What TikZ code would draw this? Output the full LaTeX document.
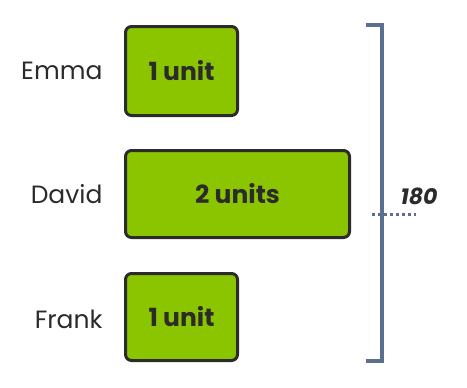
\documentclass[tikz,border=0pt]{standalone}
\usepackage{fontspec}
\setmainfont{Poppins}
\usepackage{tikz}
\usetikzlibrary{positioning}

\definecolor{unitgreen}{HTML}{8BC500}
\definecolor{boxedge}{HTML}{2B2B2B}
\definecolor{braceblue}{HTML}{5B7090}

\tikzset{
  unitbox/.style={draw=boxedge,line width=3pt,fill=unitgreen,rounded corners=6pt,
    minimum height=89pt,font=\fontsize{25}{28}\selectfont\bfseries,text=boxedge,inner sep=0pt},
  personlabel/.style={font=\fontsize{25}{28}\selectfont,text=boxedge,anchor=east}
}

\begin{document}
\begin{tikzpicture}[x=1pt,y=-1pt]
\useasboundingbox (0,0) rectangle (467,388);
\node[unitbox,minimum width=112pt] (emma) at (181.5,71) {1 unit};
\node[unitbox,minimum width=224pt,minimum height=87pt] (david) at (237.5,194) {2 units};
\node[unitbox,minimum width=112pt,minimum height=87pt] (frank) at (181.5,317) {1 unit};
\node[personlabel] (emmaname) at (106,71) {Emma};
\node[personlabel] (davidname) at (106,194) {David};
\node[personlabel] (frankname) at (106,319) {Frank};
% bracket
\coordinate (topend) at (366,25);
\coordinate (topcorner) at (382,25);
\coordinate (botcorner) at (382,361);
\coordinate (botend) at (366,361);
\draw[braceblue,line width=3.2pt] (topend) -- (topcorner) -- (botcorner) -- (botend);
\coordinate (midleft) at (372,214);
\coordinate (midright) at (416,214);
\draw[braceblue,line width=3pt,dash pattern=on 2.5pt off 3.5pt] (midleft) -- (midright);
\node[font=\fontsize{22}{24}\selectfont\bfseries\itshape,text=boxedge] (total) at (419,196) {180};
\end{tikzpicture}
\end{document}
